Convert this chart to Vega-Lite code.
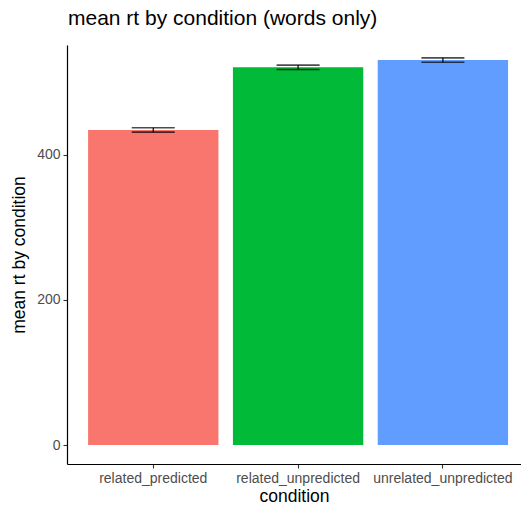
{
  "$schema": "https://vega.github.io/schema/vega-lite/v6.json",
  "autosize": "none",
  "width": 454,
  "height": 419,
  "padding": {"left": 67, "top": 45, "right": 0, "bottom": 42},
  "background": "white",
  "title": {
    "text": "mean rt by condition (words only)",
    "anchor": "start",
    "frame": "group",
    "orient": "top",
    "baseline": "alphabetic",
    "offset": -1,
    "dx": 1,
    "font": "Liberation Sans",
    "fontSize": 21,
    "fontWeight": "normal",
    "color": "black"
  },
  "config": {
    "view": {"stroke": null},
    "axis": {
      "grid": false,
      "domainColor": "black",
      "domainWidth": 1.2,
      "tickColor": "#333333",
      "tickWidth": 1.1,
      "tickSize": 4,
      "labelFont": "Liberation Sans",
      "labelFontSize": 14,
      "labelColor": "#4D4D4D",
      "titleFont": "Liberation Sans",
      "titleFontSize": 17.5,
      "titleFontWeight": "normal",
      "titleColor": "black"
    }
  },
  "data": {
    "values": [
      {"condition": "related_predicted", "rt": 434.5, "lo": 431.5, "hi": 437.5},
      {"condition": "related_unpredicted", "rt": 521, "lo": 518, "hi": 524},
      {"condition": "unrelated_unpredicted", "rt": 531, "lo": 528, "hi": 534}
    ]
  },
  "encoding": {
    "x": {
      "field": "condition",
      "type": "nominal",
      "sort": null,
      "scale": {"paddingInner": 0.1, "paddingOuter": 0.1175, "align": 0.62},
      "axis": {"labelAngle": 0, "labelPadding": 3, "titlePadding": 2, "title": "condition"}
    }
  },
  "layer": [
    {
      "mark": {"type": "bar"},
      "encoding": {
        "y": {
          "field": "rt",
          "type": "quantitative",
          "scale": {"domain": [-26.2, 551.7], "nice": false, "zero": false},
          "axis": {"values": [0, 200, 400], "title": "mean rt by condition", "titlePadding": 8, "labelPadding": 3}
        },
        "y2": {"datum": 0},
        "color": {
          "field": "condition",
          "type": "nominal",
          "sort": null,
          "scale": {"range": ["#F8766D", "#00BA38", "#619CFF"]},
          "legend": null
        }
      }
    },
    {
      "mark": {"type": "rule", "color": "black", "strokeWidth": 1.2},
      "encoding": {
        "y": {"field": "lo", "type": "quantitative"},
        "y2": {"field": "hi"}
      }
    },
    {
      "mark": {"type": "tick", "color": "black", "thickness": 1.6, "size": 43},
      "encoding": {"y": {"field": "lo", "type": "quantitative"}}
    },
    {
      "mark": {"type": "tick", "color": "black", "thickness": 1.6, "size": 43},
      "encoding": {"y": {"field": "hi", "type": "quantitative"}}
    }
  ]
}
